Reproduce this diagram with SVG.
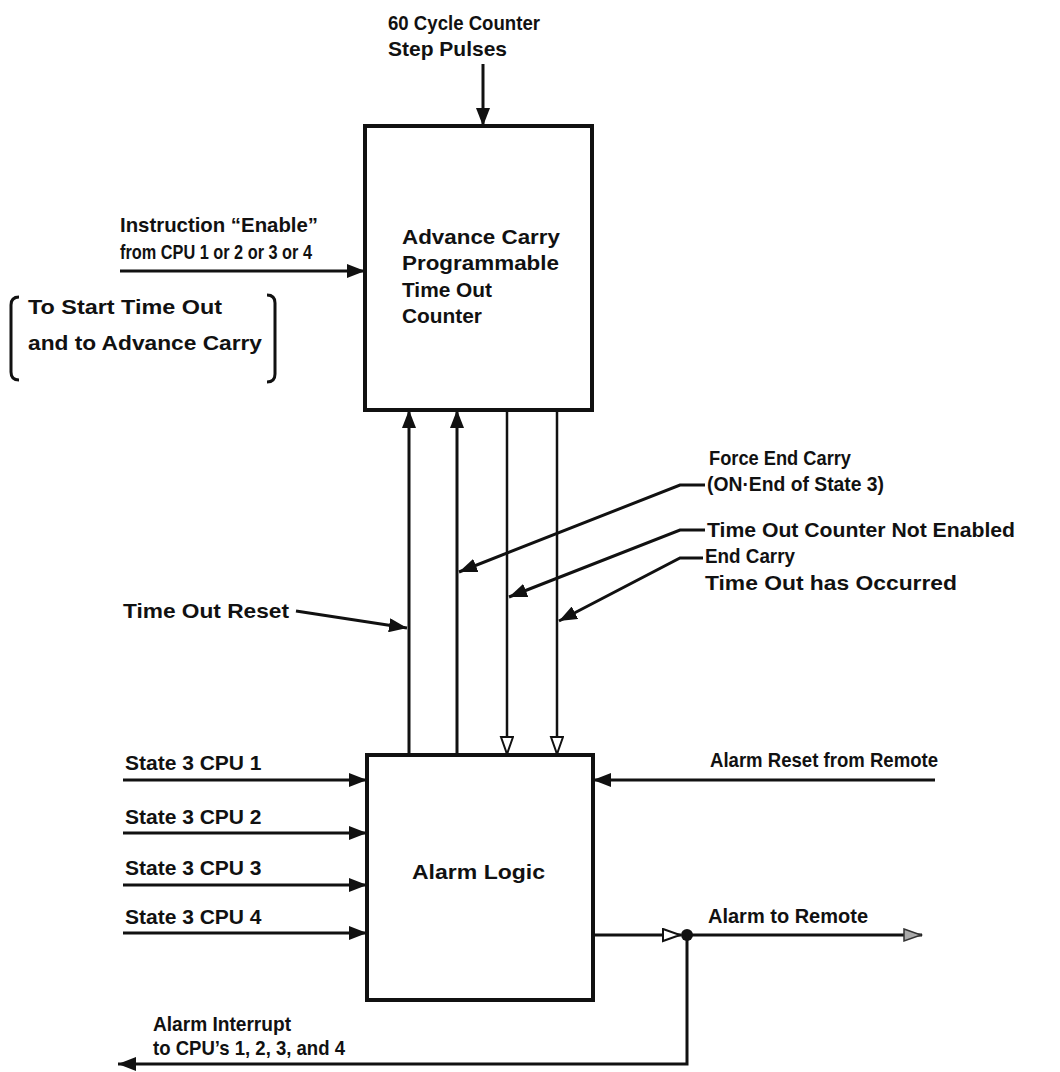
<svg xmlns="http://www.w3.org/2000/svg" width="1060" height="1072" viewBox="0 0 1060 1072">
<style>
text{font-family:"Liberation Sans",Arial,sans-serif;font-weight:bold;font-size:21px;fill:#111}
.box{fill:#fff;stroke:#111;stroke-width:4}
.ln{fill:none;stroke:#111;stroke-width:3}
.thin{fill:none;stroke:#111;stroke-width:2.5}
</style>
<defs>
<marker id="af" markerUnits="userSpaceOnUse" markerWidth="20" markerHeight="14" refX="18" refY="7" orient="auto"><path d="M0,0 L18,7 L0,14 z" fill="#111"/></marker>
<marker id="ao" markerUnits="userSpaceOnUse" markerWidth="22" markerHeight="16" refX="19" refY="7" orient="auto"><path d="M1,1 L18,7 L1,13 z" fill="#fff" stroke="#111" stroke-width="2"/></marker>
<marker id="ag" markerUnits="userSpaceOnUse" markerWidth="22" markerHeight="16" refX="19" refY="7" orient="auto"><path d="M1,1 L18,7 L1,13 z" fill="#aaa" stroke="#333" stroke-width="1.5"/></marker>
</defs>
<g id="connectors">
<line class="ln" x1="483" y1="64" x2="483" y2="126" marker-end="url(#af)"/>
<line class="ln" x1="120" y1="271" x2="365" y2="271" marker-end="url(#af)"/>
<line class="ln" x1="409" y1="755" x2="409" y2="410" marker-end="url(#af)"/>
<line class="ln" x1="457" y1="755" x2="457" y2="410" marker-end="url(#af)"/>
<line class="thin" x1="507" y1="410" x2="507" y2="755" marker-end="url(#ao)"/>
<line class="thin" x1="557" y1="410" x2="557" y2="755" marker-end="url(#ao)"/>
<polyline class="ln" points="705,485 680,485 459,572" marker-end="url(#af)"/>
<polyline class="ln" points="705,530 680,530 509,597" marker-end="url(#af)"/>
<polyline class="ln" points="703,558 680,558 559,621" marker-end="url(#af)"/>
<line class="ln" x1="296" y1="611" x2="407" y2="628" marker-end="url(#af)"/>
<line class="ln" x1="123" y1="780" x2="367" y2="780" marker-end="url(#af)"/>
<line class="ln" x1="123" y1="833" x2="367" y2="833" marker-end="url(#af)"/>
<line class="ln" x1="123" y1="885" x2="367" y2="885" marker-end="url(#af)"/>
<line class="ln" x1="123" y1="933" x2="367" y2="933" marker-end="url(#af)"/>
<line class="ln" x1="935" y1="780" x2="593" y2="780" marker-end="url(#af)"/>
<line class="ln" x1="593" y1="935" x2="681" y2="935" marker-end="url(#ao)"/>
<line class="ln" x1="687" y1="935" x2="922" y2="935" marker-end="url(#ag)"/>
<circle cx="687" cy="935" r="6" fill="#111"/>
<polyline class="ln" points="687,935 687,1064 118,1064" marker-end="url(#af)"/>
</g>
<g id="counter">
<rect class="box" x="365" y="126" width="227" height="284"/>
<text x="402" y="244" textLength="158" lengthAdjust="spacingAndGlyphs">Advance Carry</text>
<text x="402" y="270" textLength="157" lengthAdjust="spacingAndGlyphs">Programmable</text>
<text x="402" y="297" textLength="90" lengthAdjust="spacingAndGlyphs">Time Out</text>
<text x="402" y="323" textLength="80" lengthAdjust="spacingAndGlyphs">Counter</text>
</g>
<g id="alarm-logic">
<rect class="box" x="367" y="755" width="226" height="245"/>
<text x="412" y="879" textLength="133" lengthAdjust="spacingAndGlyphs">Alarm Logic</text>
</g>
<g id="labels">
<text x="388" y="30" textLength="152" lengthAdjust="spacingAndGlyphs">60 Cycle Counter</text>
<text x="388" y="56">Step Pulses</text>
<text x="120" y="232" textLength="198" lengthAdjust="spacingAndGlyphs">Instruction “Enable”</text>
<text x="120" y="259" textLength="192" lengthAdjust="spacingAndGlyphs">from CPU 1 or 2 or 3 or 4</text>
<path class="ln" d="M19,297 Q11,297 11,305 L11,372 Q11,380 19,380"/>
<path class="ln" d="M267,295 Q275,295 275,303 L275,374 Q275,382 267,382"/>
<text x="28" y="314" textLength="194" lengthAdjust="spacingAndGlyphs">To Start Time Out</text>
<text x="28" y="350" textLength="234" lengthAdjust="spacingAndGlyphs">and to Advance Carry</text>
<text x="709" y="465" textLength="142" lengthAdjust="spacingAndGlyphs">Force End Carry</text>
<text x="707" y="491" textLength="177" lengthAdjust="spacingAndGlyphs">(ON·End of State 3)</text>
<text x="707" y="537" textLength="308" lengthAdjust="spacingAndGlyphs">Time Out Counter Not Enabled</text>
<text x="705" y="563" textLength="90" lengthAdjust="spacingAndGlyphs">End Carry</text>
<text x="705" y="590" textLength="252" lengthAdjust="spacingAndGlyphs">Time Out has Occurred</text>
<text x="123" y="618" textLength="166" lengthAdjust="spacingAndGlyphs">Time Out Reset</text>
<text x="125" y="770">State 3 CPU 1</text>
<text x="125" y="824">State 3 CPU 2</text>
<text x="125" y="875">State 3 CPU 3</text>
<text x="125" y="924">State 3 CPU 4</text>
<text x="710" y="767" textLength="228" lengthAdjust="spacingAndGlyphs">Alarm Reset from Remote</text>
<text x="708" y="923" textLength="160" lengthAdjust="spacingAndGlyphs">Alarm to Remote</text>
<text x="153" y="1031" textLength="138" lengthAdjust="spacingAndGlyphs">Alarm Interrupt</text>
<text x="153" y="1055" textLength="192" lengthAdjust="spacingAndGlyphs">to CPU’s 1, 2, 3, and 4</text>
</g>
</svg>
